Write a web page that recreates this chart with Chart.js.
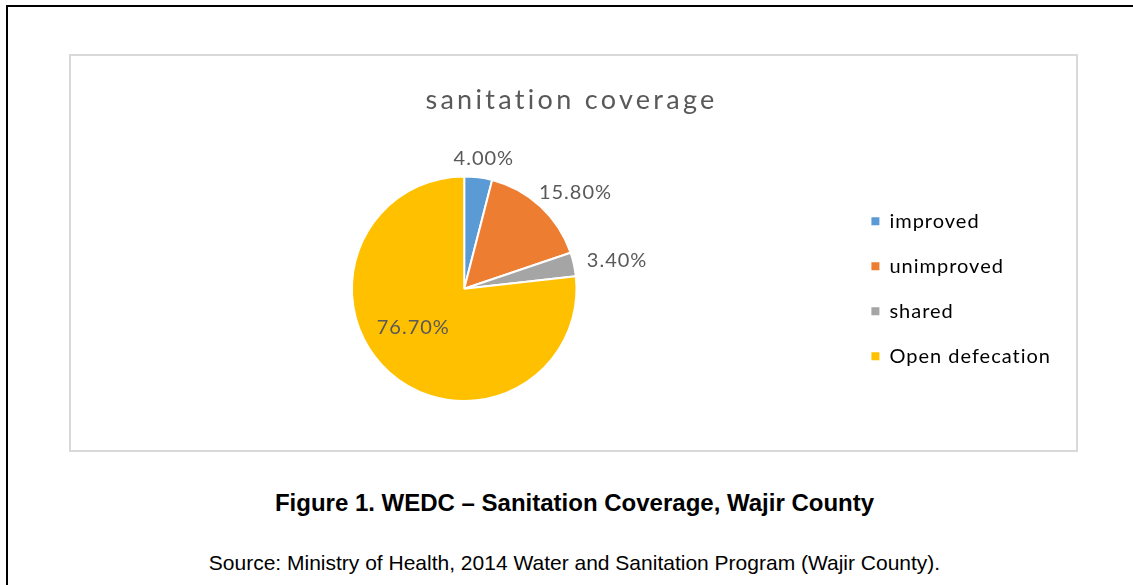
<!DOCTYPE html>
<html>
<head>
<meta charset="utf-8">
<script src="https://cdn.jsdelivr.net/npm/chart.js@4"></script>
<style>
    html, body { margin: 0; padding: 0; background: #fff; overflow: hidden; width: 1133px; height: 585px; }
    .outer { position: absolute; left: 6px; top: 5px; width: 2000px; height: 2000px; border: 2px solid #000; }
    .box { position: absolute; left: 69px; top: 54px; width: 1009px; height: 398px; border: 2px solid #d9d9d9; box-sizing: border-box; }
    .chartWrap { position: absolute; left: 72px; top: 56px; width: 1004px; height: 394px; }
    .caption { position: absolute; left: 0; width: 1149px; text-align: center; font-family: "Liberation Sans", Arial, sans-serif; color: #000; }
    #fig { top: 489px; font-size: 24px; line-height: 28px; font-weight: bold; }
    #src { top: 551px; font-size: 21px; line-height: 24px; }
</style>
</head>
<body>
<div class="outer"></div>
<div class="box"></div>
<div class="chartWrap"><canvas id="graficoSaneamiento"></canvas></div>
<div class="caption" id="fig">Figure 1. WEDC – Sanitation Coverage, Wajir County</div>
<div class="caption" id="src">Source: Ministry of Health, 2014 Water and Sanitation Program (Wajir County).</div>
<script>
const categorias = ["improved", "unimproved", "shared", "Open defecation"];
const porcentajes = [4.0, 15.8, 3.4, 76.7];
const colores = ["#5b9bd5", "#ed7d31", "#a5a5a5", "#ffc000"];

const textoGris = "#595959";
const fuente = "Lato, 'Open Sans', sans-serif";

// Excel spaces its letters out a bit
const espaciado = {
    id: "espaciado",
    afterInit: (chart) => {
        const t = chart.titleBlock;
        const dibujar = t.draw.bind(t);
        t.draw = (area) => {
            chart.ctx.save();
            chart.ctx.letterSpacing = "3.3px";
            dibujar(area);
            chart.ctx.restore();
        };
    },
    beforeUpdate: (chart) => { chart.ctx.letterSpacing = "1px"; },
    beforeDraw: (chart) => { chart.ctx.letterSpacing = "1px"; },
};

const etiquetas = {
    id: "etiquetas",
    afterDatasetsDraw: (chart) => {
        const ctx = chart.ctx;
        const meta = chart.getDatasetMeta(0);
        const total = porcentajes.reduce((a, b) => a + b, 0);
        ctx.save();
        ctx.font = "20px " + fuente;
        ctx.fillStyle = textoGris;
        ctx.textAlign = "center";
        ctx.textBaseline = "middle";
        meta.data.forEach((arc, i) => {
            const p = arc.getProps(["x", "y", "startAngle", "endAngle", "outerRadius"], true);
            const mid = (p.startAngle + p.endAngle) / 2;
            const cx = Math.cos(mid);
            const cy = Math.sin(mid);
            const texto = porcentajes[i].toFixed(2) + "%";
            let x, y;
            if (porcentajes[i] / total > 0.3) {
                x = p.x + cx * p.outerRadius * 0.68;
                y = p.y + cy * p.outerRadius * 0.46;
            } else {
                const w = ctx.measureText(texto).width;
                const r = p.outerRadius + 11;
                x = p.x + cx * r + cx * w * 0.55;
                y = p.y + cy * r + cy * 8;
            }
            ctx.fillText(texto, x, y);
        });
        ctx.restore();
    },
};

const dataGrafico = {
    labels: categorias,
    datasets: [
        {
            data: porcentajes,
            backgroundColor: colores,
            borderColor: "#ffffff",
            borderWidth: 2,
        },
    ],
};

const configGrafico = {
    type: "pie",
    data: dataGrafico,
    options: {
        responsive: true,
        maintainAspectRatio: false,
        animation: false,
        layout: {
            padding: { left: 10, right: 15, top: 0, bottom: 48 },
        },
        plugins: {
            tooltip: { enabled: false },
            title: {
                display: true,
                text: "sanitation coverage",
                color: textoGris,
                padding: { top: 28, bottom: 59 },
                font: { size: 27, weight: "normal", family: fuente },
            },
            legend: {
                position: "right",
                fullSize: false,
                labels: {
                    boxWidth: 8,
                    boxHeight: 8,
                    padding: 25,
                    color: textoGris,
                    font: { size: 20, family: fuente },
                    generateLabels: (chart) =>
                        categorias.map((c, i) => ({
                            text: c,
                            fillStyle: colores[i],
                            strokeStyle: colores[i],
                            lineWidth: 0,
                            index: i,
                        })),
                },
            },
        },
    },
    plugins: [espaciado, etiquetas],
};

const graficoSaneamiento = new Chart(
    document.getElementById("graficoSaneamiento"),
    configGrafico
);
</script>
</body>
</html>
